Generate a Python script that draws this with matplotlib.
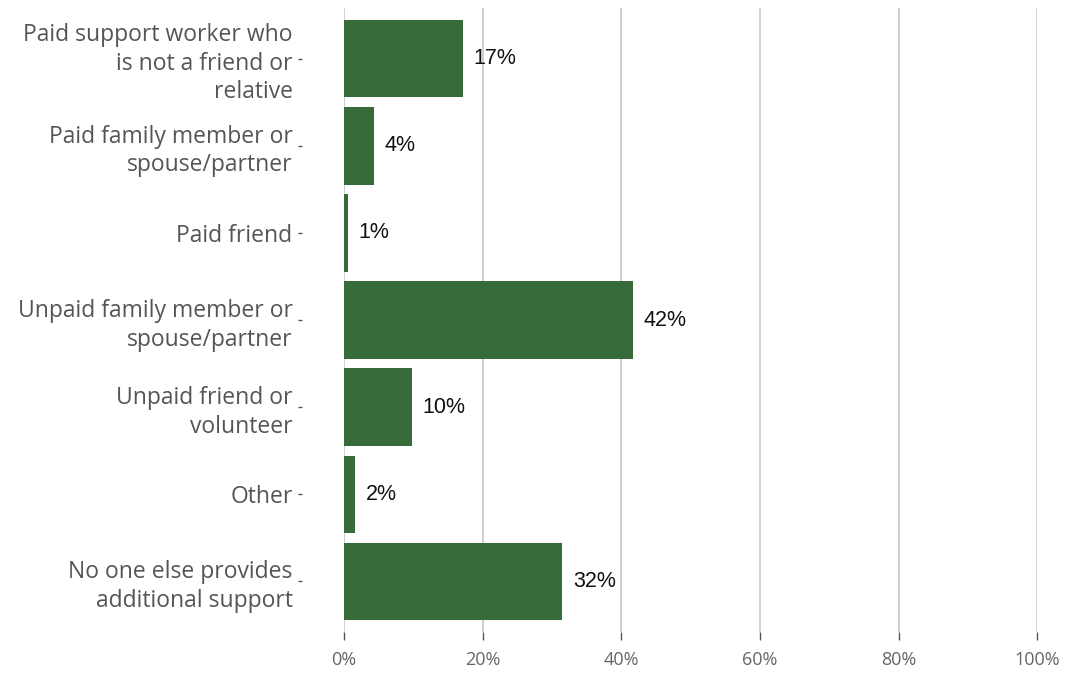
import matplotlib
matplotlib.use('Agg')
import matplotlib.pyplot as plt

categories = ['Paid support worker who\nis not a friend or\nrelative',
              'Paid family member or\nspouse/partner',
              'Paid friend',
              'Unpaid family member or\nspouse/partner',
              'Unpaid friend or\nvolunteer',
              'Other',
              'No one else provides\nadditional support']
values = [17.2, 4.3, 0.6, 41.7, 9.8, 1.6, 31.5]
value_labels = ['17%', '4%', '1%', '42%', '10%', '2%', '32%']
xticks = [0, 20, 40, 60, 80, 100]
xtick_labels = ['0%', '20%', '40%', '60%', '80%', '100%']

fig = plt.figure(figsize=(10.65, 6.75), dpi=100)
ax = fig.add_axes([0.323, 0.0637, 0.651, 0.9243])

# move the (hidden) left spine out so the tick dashes sit next to the labels
for s in ax.spines.values():
    s.set_visible(False)
ax.spines['left'].set_position(('outward', 30))

pos = list(range(len(categories)))
ax.barh(pos, values, height=0.89, color='#386b3a', zorder=2)

for p, v, t in zip(pos, values, value_labels):
    ax.text(v + 1.5, p, t, va='center', ha='left', fontsize=15.5,
            family='Liberation Sans', color='#111111')

ax.set_xlim(0, 100)
ax.set_ylim(6.58, -0.58)
ax.set_xticks(xticks)
ax.set_xticklabels(xtick_labels, family='Open Sans', fontsize=13, color='#666666')
ax.set_yticks(pos)
ax.set_yticklabels(categories, family='Open Sans', fontsize=16.5, color='#555555',
                   linespacing=1.25)

ax.grid(axis='x', color='#c8c8c8', linewidth=1.2, zorder=0)
ax.tick_params(axis='y', length=3, width=1, color='#555555', pad=4)
ax.tick_params(axis='x', length=6, width=1, color='#555555', pad=8, direction='out')

fig.savefig('out.png', dpi=100)
